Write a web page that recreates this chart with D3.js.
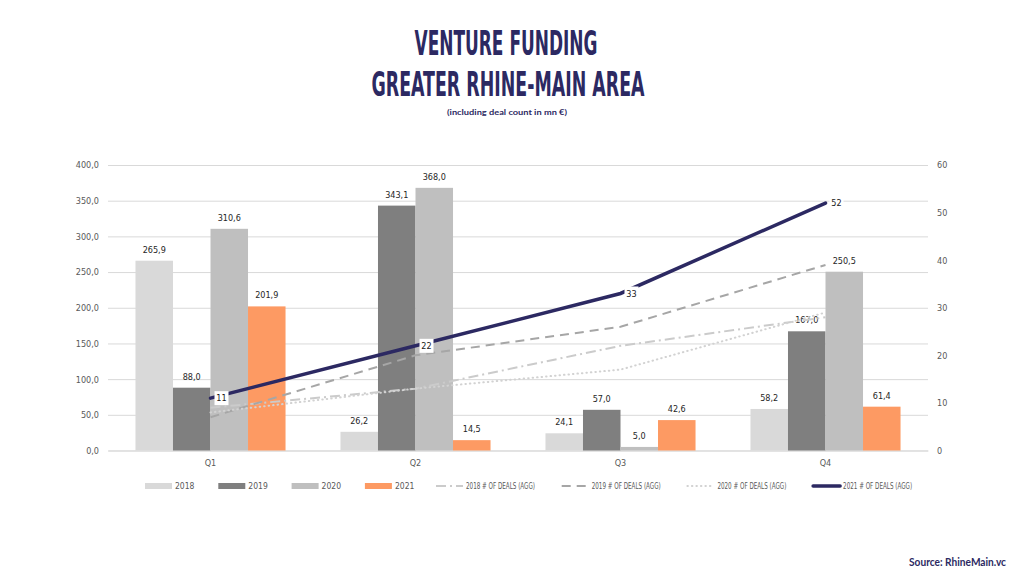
<!DOCTYPE html>
<html>
<head>
<meta charset="utf-8">
<script src="https://cdn.jsdelivr.net/npm/d3@7"></script>
<style>
  body { margin: 0; background: #fff; }
  svg text { font-family: "Liberation Sans Narrow", "DejaVu Sans Condensed", sans-serif; }
</style>
</head>
<body>
<script>
// data
var quarters = ["Q1", "Q2", "Q3", "Q4"];
var years = ["2018", "2019", "2020", "2021"];
var funding2018 = [265.9, 26.2, 24.1, 58.2];
var funding2019 = [88.0, 343.1, 57.0, 167.0];
var funding2020 = [310.6, 368.0, 5.0, 250.5];
var funding2021 = [201.9, 14.5, 42.6, 61.4];
var deals2018 = [9, 13, 22, 28];
var deals2019 = [7, 20, 26, 39];
var deals2020 = [8, 13, 17, 29];
var deals2021 = [11, 22, 33, 52];
var leftTicks = d3.range(0, 401, 50);
var rightTicks = d3.range(0, 61, 10);

var funding = [funding2018, funding2019, funding2020, funding2021];
var barColors = ["#d9d9d9", "#7f7f7f", "#bfbfbf", "#fd9a63"];
var navy = "#2c2962";

var de = d3.formatLocale({decimal: ",", thousands: ".", grouping: [3], currency: ["", " €"]});
var fmt = de.format(".1f");

var W = 1024, H = 576;
var svg = d3.select("body").append("svg")
    .attr("width", W)
    .attr("height", H);

// title
svg.append("text")
    .attr("x", 506).attr("y", 55)
    .attr("text-anchor", "middle")
    .attr("textLength", 183).attr("lengthAdjust", "spacingAndGlyphs")
    .style("font-size", "33px").style("font-weight", "bold")
    .attr("fill", navy)
    .text("VENTURE FUNDING");
svg.append("text")
    .attr("x", 508).attr("y", 96)
    .attr("text-anchor", "middle")
    .attr("textLength", 273).attr("lengthAdjust", "spacingAndGlyphs")
    .style("font-size", "33px").style("font-weight", "bold")
    .attr("fill", navy)
    .text("GREATER RHINE-MAIN AREA");
svg.append("text")
    .attr("x", 507).attr("y", 115)
    .attr("text-anchor", "middle")
    .attr("textLength", 120).attr("lengthAdjust", "spacingAndGlyphs")
    .style("font-family", "Lato, 'Open Sans', sans-serif")
    .style("font-size", "8px").style("font-weight", "bold")
    .attr("fill", navy)
    .text("(including deal count in mn €)");

// scales
var x0 = d3.scaleBand()
    .domain(quarters)
    .range([108, 928])
    .paddingInner(0.268)
    .paddingOuter(0.134);
var x1 = d3.scaleBand()
    .domain(years)
    .range([0, x0.bandwidth()]);
var y = d3.scaleLinear().domain([0, 400]).range([450.5, 165]);
var yR = d3.scaleLinear().domain([0, 60]).range([450.5, 165]);

// grid
svg.append("g")
    .attr("transform", "translate(108,0)")
    .call(d3.axisLeft(y).tickValues(leftTicks).tickSize(-820).tickFormat(""))
    .call(function(g) {
      g.select(".domain").remove();
      g.selectAll("line").attr("stroke", "#d9d9d9");
    });

// left axis
svg.append("g")
    .attr("transform", "translate(108,0)")
    .call(d3.axisLeft(y).tickValues(leftTicks).tickSize(0).tickPadding(9).tickFormat(fmt))
    .call(function(g) {
      g.select(".domain").remove();
      g.selectAll("text").attr("fill", "#595959").style("font-size", "9px");
    });

// right axis
svg.append("g")
    .attr("transform", "translate(928,0)")
    .call(d3.axisRight(yR).tickValues(rightTicks).tickSize(0).tickPadding(9).tickFormat(d3.format("d")))
    .call(function(g) {
      g.select(".domain").remove();
      g.selectAll("text").attr("fill", "#595959").style("font-size", "9px");
    });

// bottom axis
svg.append("g")
    .attr("transform", "translate(0,450.5)")
    .call(d3.axisBottom(x0).tickSize(0).tickSizeOuter(0).tickPadding(9))
    .call(function(g) {
      g.select(".domain").attr("stroke", "#d9d9d9");
      g.selectAll("text").attr("fill", "#595959").style("font-size", "9px");
    });

// bars
var groups = svg.append("g").selectAll("g")
    .data(quarters)
  .enter().append("g")
    .attr("transform", function(q) { return "translate(" + x0(q) + ",0)"; });

groups.selectAll("rect")
    .data(function(q, i) { return years.map(function(yr, j) { return {year: yr, j: j, v: funding[j][i]}; }); })
  .enter().append("rect")
    .attr("x", function(d) { return x1(d.year); })
    .attr("width", x1.bandwidth())
    .attr("y", function(d) { return y(d.v); })
    .attr("height", function(d) { return y(0) - y(d.v); })
    .attr("fill", function(d) { return barColors[d.j]; });

groups.selectAll("text")
    .data(function(q, i) { return years.map(function(yr, j) { return {year: yr, v: funding[j][i]}; }); })
  .enter().append("text")
    .attr("x", function(d) { return x1(d.year) + x1.bandwidth() / 2; })
    .attr("y", function(d) { return y(d.v) - 8; })
    .attr("text-anchor", "middle")
    .attr("fill", "#262626")
    .style("font-size", "9px")
    .text(function(d) { return fmt(d.v); });

// deal lines
var lineSeries = [
  {name: "2018 # OF DEALS (AGG)", values: deals2018, color: "#cbcbcb", width: 2, dash: "10,4,2,4", cap: "butt"},
  {name: "2019 # OF DEALS (AGG)", values: deals2019, color: "#a6a6a6", width: 2, dash: "9,6", cap: "butt"},
  {name: "2020 # OF DEALS (AGG)", values: deals2020, color: "#d2d2d2", width: 2, dash: "0.5,4", cap: "round"},
  {name: "2021 # OF DEALS (AGG)", values: deals2021, color: navy, width: 3.5, dash: null, cap: "round"}
];

var line = d3.line()
    .x(function(d, i) { return x0(quarters[i]) + x0.bandwidth() / 2; })
    .y(function(d) { return yR(d); });

svg.append("g").selectAll("path")
    .data(lineSeries)
  .enter().append("path")
    .attr("d", function(s) { return line(s.values); })
    .attr("fill", "none")
    .attr("stroke", function(s) { return s.color; })
    .attr("stroke-width", function(s) { return s.width; })
    .attr("stroke-dasharray", function(s) { return s.dash; })
    .attr("stroke-linecap", function(s) { return s.cap; });

// 2021 deal labels
var dl = svg.append("g").selectAll("g")
    .data(deals2021)
  .enter().append("g")
    .attr("transform", function(d, i) {
      return "translate(" + (x0(quarters[i]) + x0.bandwidth() / 2 + 11) + "," + yR(d) + ")";
    });
dl.append("rect")
    .attr("x", -7).attr("y", -7).attr("width", 14).attr("height", 14)
    .attr("fill", "#fff");
dl.append("text")
    .attr("text-anchor", "middle")
    .attr("dy", "0.35em")
    .attr("fill", "#1a1a1a")
    .style("font-size", "9px")
    .text(function(d) { return d; });

// legend: bar keys on a short step, line keys on a long one
var legend = svg.append("g").attr("transform", "translate(0,486)");

var barKeys = legend.selectAll("g.bar-key")
    .data(years)
  .enter().append("g")
    .attr("class", "bar-key")
    .attr("transform", function(d, j) { return "translate(" + (145 + j * 73.3) + ",0)"; });
barKeys.append("rect")
    .attr("y", -3).attr("width", 27).attr("height", 6)
    .attr("fill", function(d, j) { return barColors[j]; });
barKeys.append("text")
    .attr("x", 30).attr("dy", "0.35em")
    .attr("fill", "#595959")
    .style("font-size", "8.5px")
    .text(function(d) { return d; });

var lineKeys = legend.selectAll("g.line-key")
    .data(lineSeries)
  .enter().append("g")
    .attr("class", "line-key")
    .attr("transform", function(d, j) { return "translate(" + (436 + j * 125.7) + ",0)"; });
lineKeys.append("line")
    .attr("x2", 27)
    .attr("stroke", function(s) { return s.color; })
    .attr("stroke-width", function(s) { return s.width; })
    .attr("stroke-dasharray", function(s) { return s.dash; })
    .attr("stroke-linecap", function(s) { return s.cap; });
lineKeys.append("text")
    .attr("x", 30).attr("dy", "0.35em")
    .attr("textLength", 69).attr("lengthAdjust", "spacingAndGlyphs")
    .attr("fill", "#595959")
    .style("font-size", "8.5px")
    .text(function(s) { return s.name; });

// source
svg.append("text")
    .attr("x", 1006).attr("y", 566)
    .attr("text-anchor", "end")
    .attr("textLength", 97).attr("lengthAdjust", "spacingAndGlyphs")
    .style("font-family", "Lato, 'Open Sans', sans-serif")
    .style("font-size", "11px").style("font-weight", "bold")
    .attr("fill", navy)
    .text("Source: RhineMain.vc");
</script>
</body>
</html>
